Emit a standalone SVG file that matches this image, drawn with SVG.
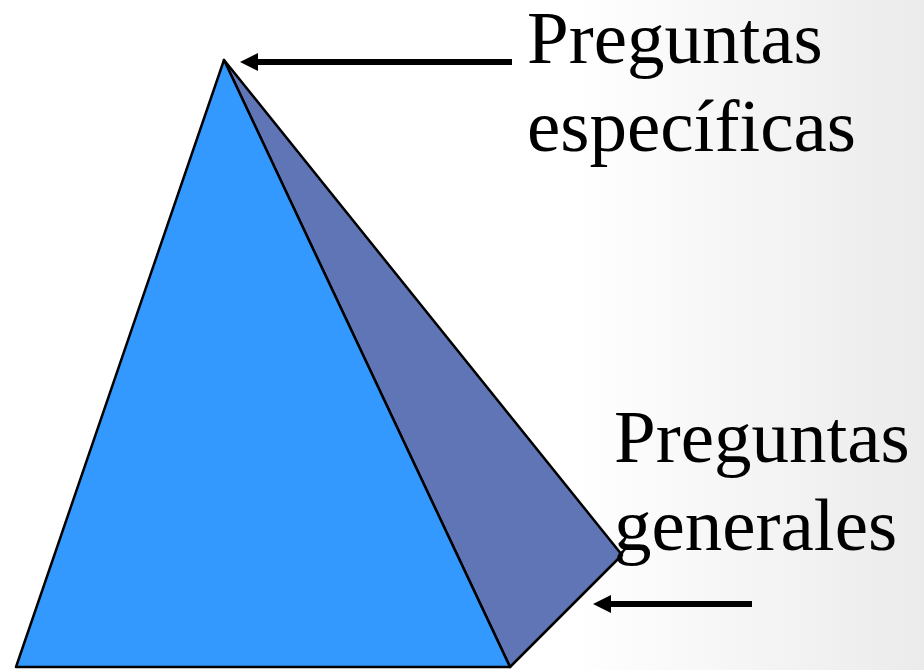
<svg xmlns="http://www.w3.org/2000/svg" width="924" height="670" viewBox="0 0 924 670">
<defs>
<linearGradient id="bg" x1="0" y1="0" x2="1" y2="0">
<stop offset="0" stop-color="#ffffff"/>
<stop offset="0.62" stop-color="#ffffff"/>
<stop offset="1" stop-color="#ebebeb"/>
</linearGradient>
<style>
.face{stroke:#000;stroke-width:2.5;stroke-linejoin:round}
.lbl{font-family:"Liberation Serif","Times New Roman",serif;font-size:75px;fill:#000}
.arr{stroke:#000;stroke-width:6;fill:none}
.head{fill:#000}
</style>
</defs>
<rect width="924" height="670" fill="url(#bg)"/>
<g id="pyramid">
<polygon id="back-face" class="face" fill="#5f75b5" points="224,60 622,555 510,667"/>
<polygon id="front-face" class="face" fill="#3399ff" points="224,60 510,667 16,667"/>
</g>
<g id="connectors">
<line class="arr" x1="512" y1="62" x2="256" y2="62"/>
<polygon class="head" points="240,62 258,53 258,71"/>
<line class="arr" x1="752" y1="604" x2="609" y2="604"/>
<polygon class="head" points="593,604 611,595 611,613"/>
</g>
<g id="label-especificas">
<text class="lbl" x="527" y="63">Preguntas</text>
<text class="lbl" x="527" y="151">específicas</text>
</g>
<g id="label-generales">
<text class="lbl" x="614" y="462">Preguntas</text>
<text class="lbl" x="614" y="550">generales</text>
</g>
</svg>
